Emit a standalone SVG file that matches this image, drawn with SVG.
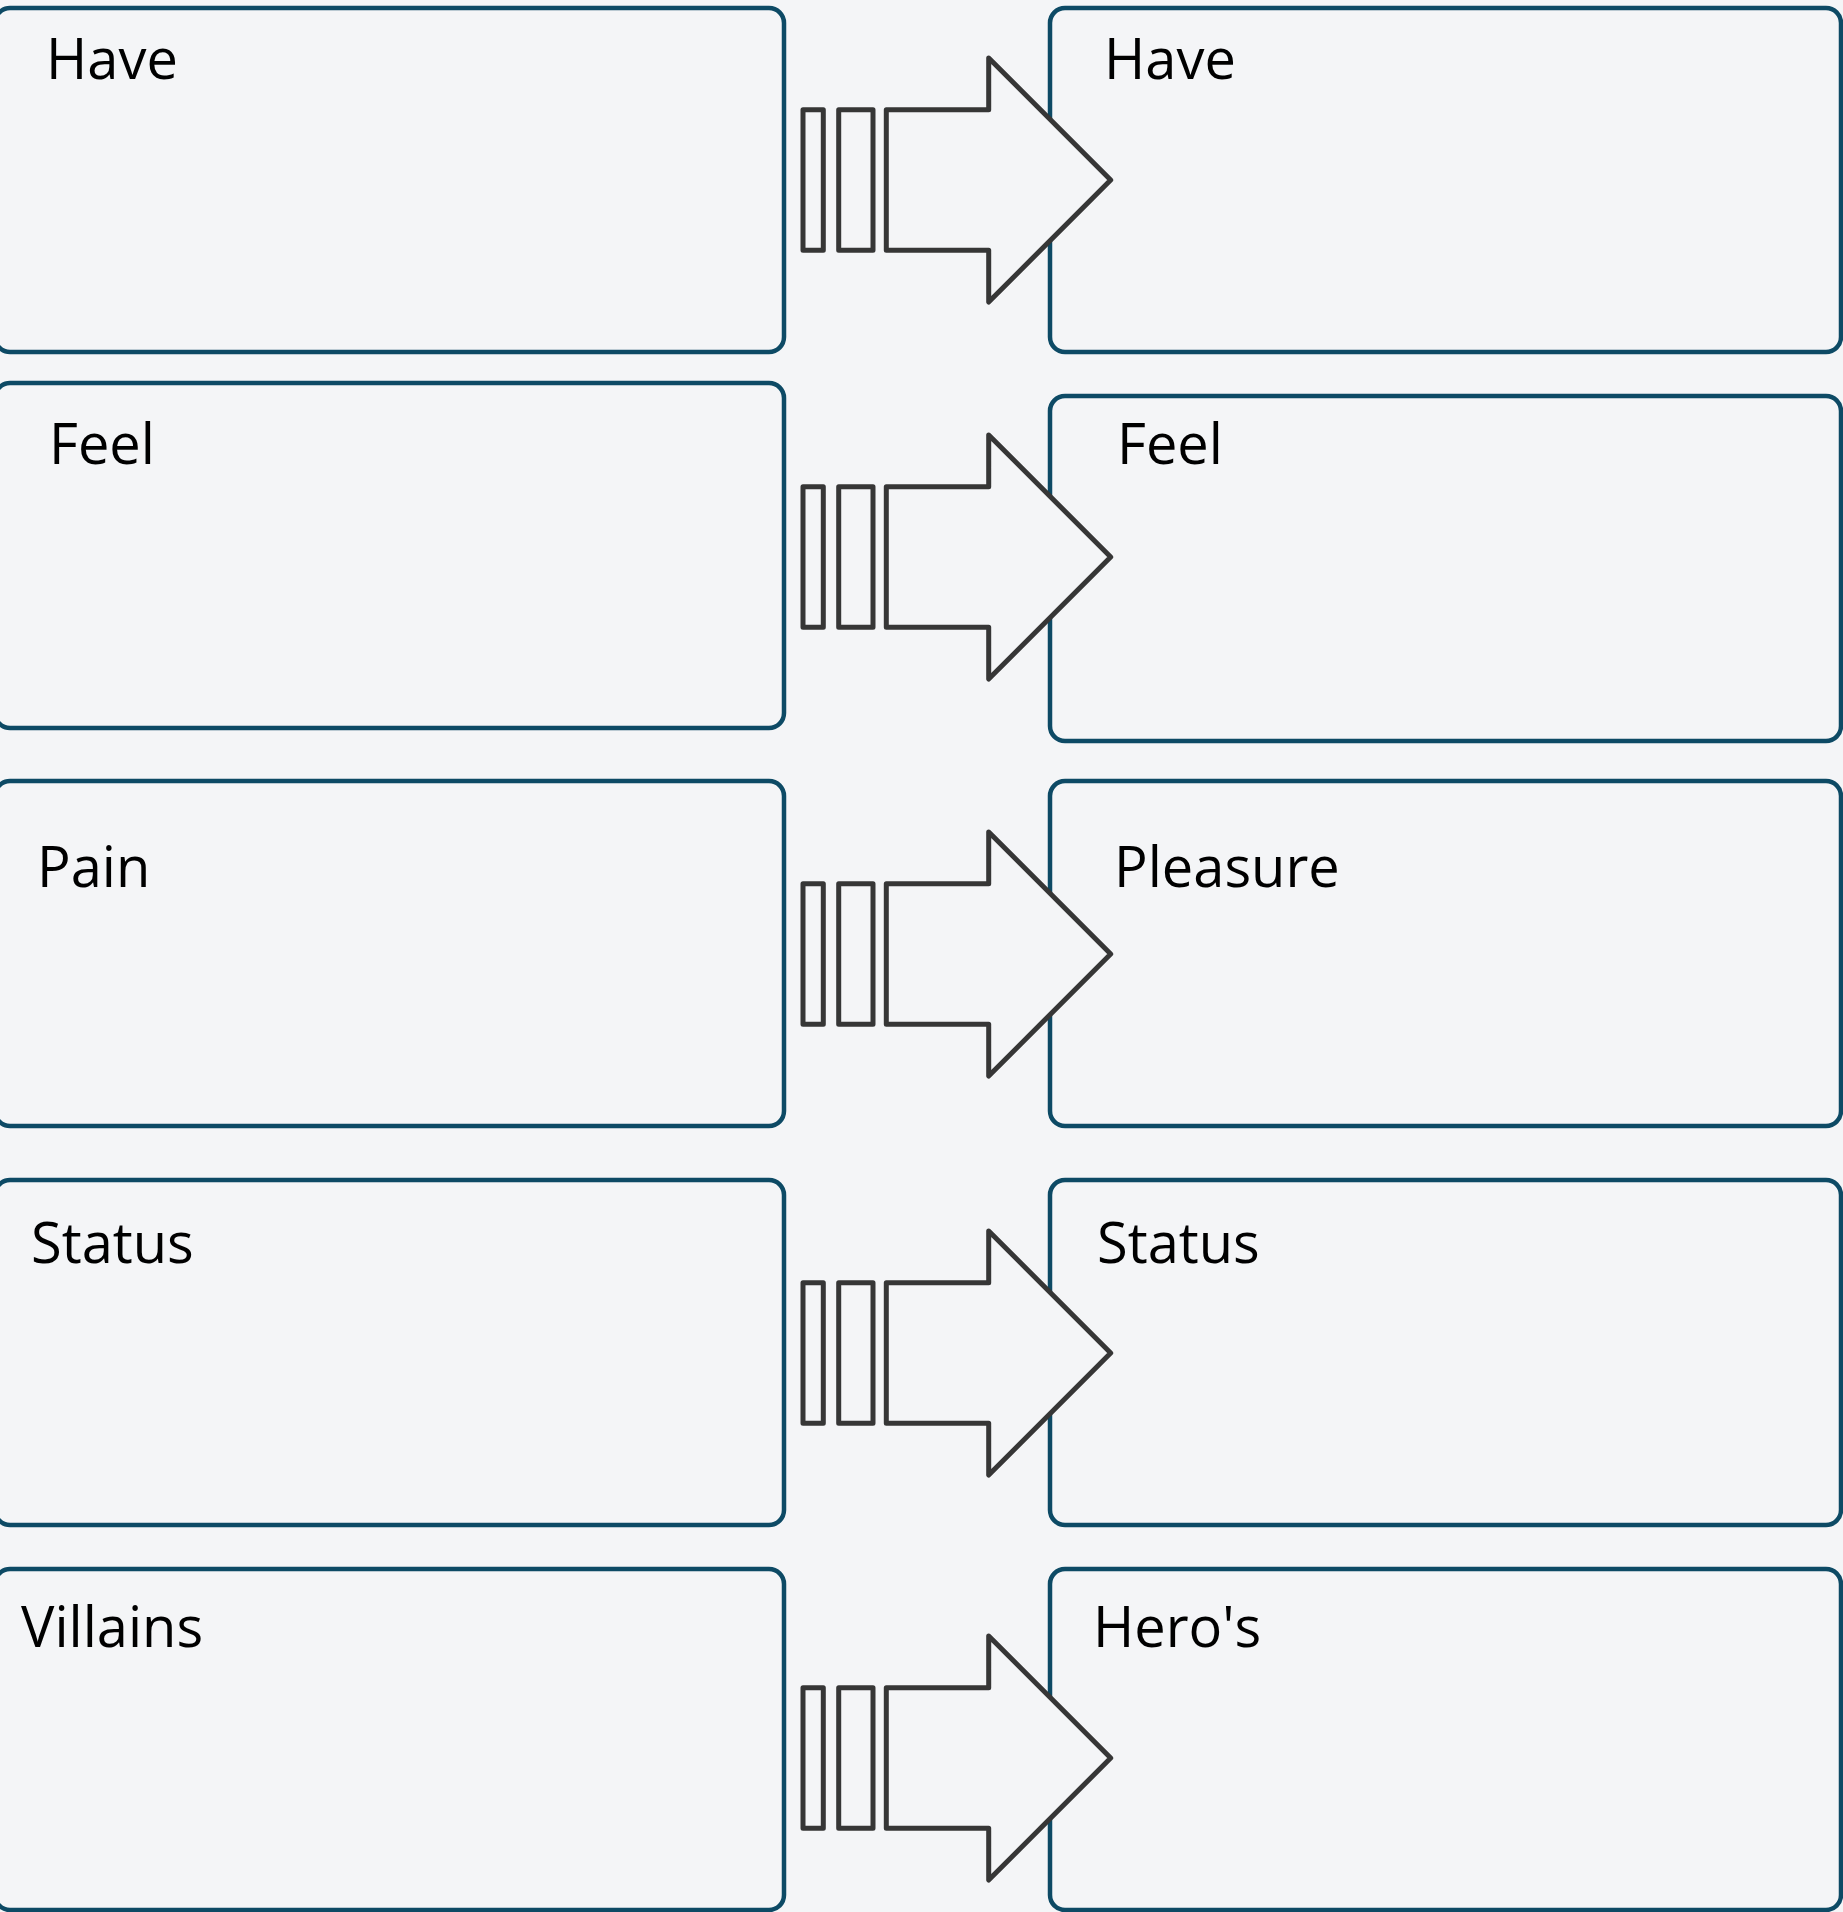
<svg xmlns="http://www.w3.org/2000/svg" width="1843" height="1912" viewBox="0 0 1843 1912">
  <style>
    .bg { fill: #f4f5f7; }
    .box { fill: #f4f5f7; stroke: #0d4a65; stroke-width: 4.5; }
    .label { font-family: "Open Sans", "Noto Sans", "Liberation Sans", sans-serif; font-size: 56px; fill: #000; }
    .arrow { fill: #f4f5f7; stroke: #363636; stroke-width: 5; stroke-linejoin: round; }
  </style>
  <defs>
    <!-- striped block arrow, centred on y=0 -->
    <g id="block-arrow">
      <rect class="arrow" x="803" y="-70.3" width="20.3" height="140.6"/>
      <rect class="arrow" x="838.7" y="-70.3" width="34.3" height="140.6"/>
      <path class="arrow" d="M886.3,-70.3 H988.7 V-122 L1110.7,0 L988.7,122 V70.3 H886.3 Z"/>
    </g>
  </defs>

  <rect class="bg" x="0" y="0" width="1843" height="1912"/>

  <!-- row 1 -->
  <g id="have-left">
    <rect class="box" x="-5" y="8" width="789" height="344" rx="15"/>
    <text class="label" x="46" y="79">Have</text>
  </g>
  <g id="have-right">
    <rect class="box" x="1050" y="8" width="791" height="344" rx="15"/>
    <text class="label" x="1104" y="79">Have</text>
  </g>

  <!-- row 2 -->
  <g id="feel-left">
    <rect class="box" x="-5" y="383" width="789" height="345" rx="15"/>
    <text class="label" x="49" y="464">Feel</text>
  </g>
  <g id="feel-right">
    <rect class="box" x="1050" y="396" width="791" height="345" rx="15"/>
    <text class="label" x="1117" y="464">Feel</text>
  </g>

  <!-- row 3 -->
  <g id="pain">
    <rect class="box" x="-5" y="781" width="789" height="345" rx="15"/>
    <text class="label" x="37" y="887">Pain</text>
  </g>
  <g id="pleasure">
    <rect class="box" x="1050" y="781" width="791" height="345" rx="15"/>
    <text class="label" x="1114" y="887">Pleasure</text>
  </g>

  <!-- row 4 -->
  <g id="status-left">
    <rect class="box" x="-5" y="1180" width="789" height="345" rx="15"/>
    <text class="label" x="31" y="1263">Status</text>
  </g>
  <g id="status-right">
    <rect class="box" x="1050" y="1180" width="791" height="345" rx="15"/>
    <text class="label" x="1097" y="1263">Status</text>
  </g>

  <!-- row 5 -->
  <g id="villains">
    <rect class="box" x="-5" y="1569" width="789" height="341" rx="15"/>
    <text class="label" x="21" y="1647">Villains</text>
  </g>
  <g id="heros">
    <rect class="box" x="1050" y="1569" width="791" height="341" rx="15"/>
    <text class="label" x="1093" y="1647">Hero's</text>
  </g>

  <!-- arrows between the columns -->
  <g id="connectors">
    <use href="#block-arrow" transform="translate(0,180)"/>
    <use href="#block-arrow" transform="translate(0,557)"/>
    <use href="#block-arrow" transform="translate(0,954)"/>
    <use href="#block-arrow" transform="translate(0,1353)"/>
    <use href="#block-arrow" transform="translate(0,1758)"/>
  </g>
</svg>
